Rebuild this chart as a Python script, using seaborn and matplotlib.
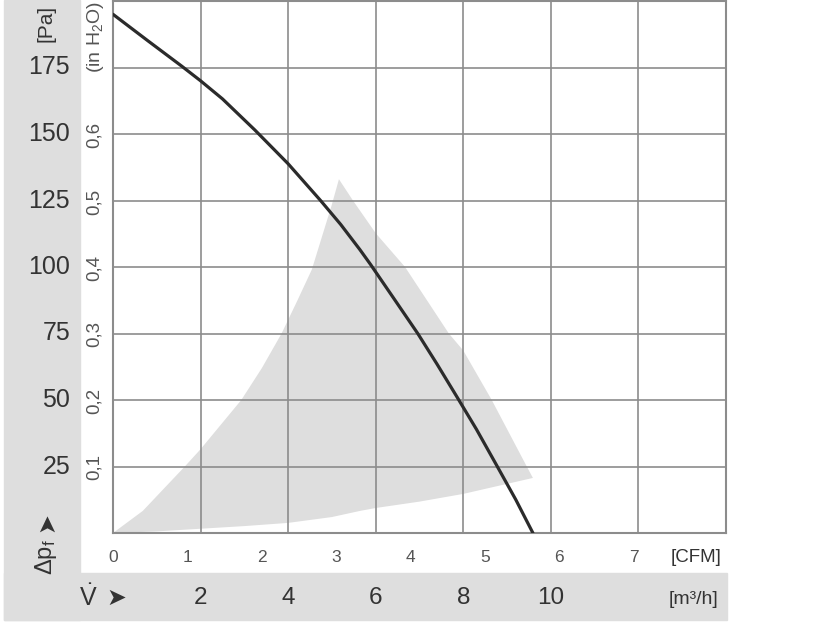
import matplotlib
matplotlib.use("Agg")
import matplotlib.pyplot as plt
import matplotlib.transforms as mtransforms
from matplotlib.patches import Rectangle
import seaborn as sns
import pandas as pd

sns.set_style("white")
plt.rcParams['font.family'] = ['Liberation Sans', 'DejaVu Sans']
plt.rcParams['mathtext.default'] = 'regular'

# fan curve, flow in m3/h, pressure in Pa
flow = [0, 0.8, 1.57, 2, 2.5, 3.24, 4, 4.74, 5.2, 5.64, 5.88, 6.4, 6.96,
        7.4, 7.88, 8.3, 8.76, 9.2, 9.59]
pressure = [195, 185, 175.5, 170, 163.2, 151.5, 138.8, 125, 116, 106.5, 101, 88.5, 75,
            63.5, 50.5, 39, 25.5, 12.5, 0]

# grey operating zone (outline in m3/h / Pa)
zone_x = [0, 0.68, 1.64, 2.0, 2.93, 3.4, 3.85, 4.2, 4.54, 4.99, 5.16,
          5.48, 6.0, 6.67, 7.67, 8.0, 8.65, 9.45, 9.59,
          8.0, 7.0, 6.0, 5.64, 5.0, 4.0, 3.0, 2.0, 1.0, 0]
zone_y = [0, 8.3, 25, 31.5, 50, 62, 75, 87, 99, 123, 133,
          125, 112.7, 100, 75, 68.6, 50, 25, 20.7,
          14.7, 11.8, 9.4, 8.3, 6, 3.8, 2.6, 1.6, 0.6, 0]

grid_m3h = [2, 4, 6, 8, 10, 12]
m3h_labels = [2, 4, 6, 8, 10]
grid_pa = [25, 50, 75, 100, 125, 150, 175]
pa_labels = [25, 50, 75, 100, 125, 150, 175]
cfm_ticks = [0, 1, 2, 3, 4, 5, 6, 7, 8]
inh2o_ticks = [0, 0.1, 0.2, 0.3, 0.4, 0.5, 0.6, 0.7]

CFM = 1.699   # m3/h per CFM
INH2O = 249.1  # Pa per inH2O

W, H = 816, 624
fig = plt.figure(figsize=(W / 100, H / 100), dpi=100)
ax = fig.add_axes([113 / W, 1 - 533 / H, 613 / W, 532 / H])

# background bands
band = '#dedede'
fig.patches.append(Rectangle((4 / W, 1 - 620 / H), 76 / W, 620 / H,
                             transform=fig.transFigure, color=band, zorder=-1))
fig.patches.append(Rectangle((4 / W, 1 - 620 / H), 723 / W, 47 / H,
                             transform=fig.transFigure, color=band, zorder=-1))

ax.fill(zone_x, zone_y, color='#dedede', lw=0, zorder=1)
gc = '#8c8c8c'
ax.vlines(grid_m3h, 0, 200, color=gc, lw=1.2, zorder=2)
ax.hlines(grid_pa, 0, 14, color=gc, lw=1.2, zorder=2)

df = pd.DataFrame({'flow': flow, 'pressure': pressure})
sns.lineplot(data=df, x='flow', y='pressure', ax=ax, color='#2b2b2b', lw=2.3,
             zorder=3, sort=False)

ax.set_xlim(0, 14)
ax.set_ylim(0, 200)
ax.set_xlabel('')
ax.set_ylabel('')
for s in ax.spines.values():
    s.set_color(gc)
    s.set_linewidth(1.5)

# CFM ticks at bottom
ax.set_xticks([c * CFM for c in cfm_ticks])
ax.set_xticklabels([str(c) for c in cfm_ticks[:-1]] + [''])
ax.tick_params(axis='x', direction='out', length=4.5, width=1.2, color=gc,
               pad=8, labelsize=12.5, labelcolor='#555555')

# inH2O ticks on the left
ax.set_yticks([v * INH2O for v in inh2o_ticks])
ax.set_yticklabels([''] + [f'{v:.1f}'.replace('.', ',') for v in inh2o_ticks[1:-1]] + [''],
                   rotation=90, va='center')
ax.tick_params(axis='y', direction='out', length=3.6, width=1.2, color=gc,
               pad=3.5, labelsize=13.5, labelcolor='#555555')

txt = '#333333'
fy = mtransforms.blended_transform_factory(fig.transFigure, ax.transData)
for v in pa_labels:
    ax.text(70 / W, v, str(v), transform=fy, ha='right', va='center',
            fontsize=18, color=txt)

fx = mtransforms.blended_transform_factory(ax.transData, fig.transFigure)
for v in m3h_labels:
    ax.text(v, 1 - 598 / H, str(v), transform=fx, ha='center', va='center',
            fontsize=17.5, color=txt)

def ftext(x, y, s, **kw):
    fig.text(x / W, 1 - y / H, s, **kw)

ftext(46, 23, '[Pa]', rotation=90, ha='center', va='center', fontsize=15, color=txt)
ftext(96, 37, '(in H$_2$O)', rotation=90, ha='center', va='center', fontsize=14,
      color='#555555')
ftext(46, 522, '➤', rotation=90, ha='center', va='center', fontsize=17, color=txt,
      family=['DejaVu Sans'])
ftext(46, 557, 'Δp$_f$', rotation=90, ha='center', va='center', fontsize=17, color=txt)
ftext(88, 598, r'$\dot{V}$', ha='center', va='center', fontsize=18, color=txt)
ftext(116, 598, '➤', ha='center', va='center', fontsize=17, color=txt,
      family=['DejaVu Sans'])
ftext(696, 557, '[CFM]', ha='center', va='center', fontsize=13.5, color='#333333')
ftext(694, 600, '[m³/h]', ha='center', va='center', fontsize=14, color='#333333')

plt.savefig('out.png', dpi=100)
